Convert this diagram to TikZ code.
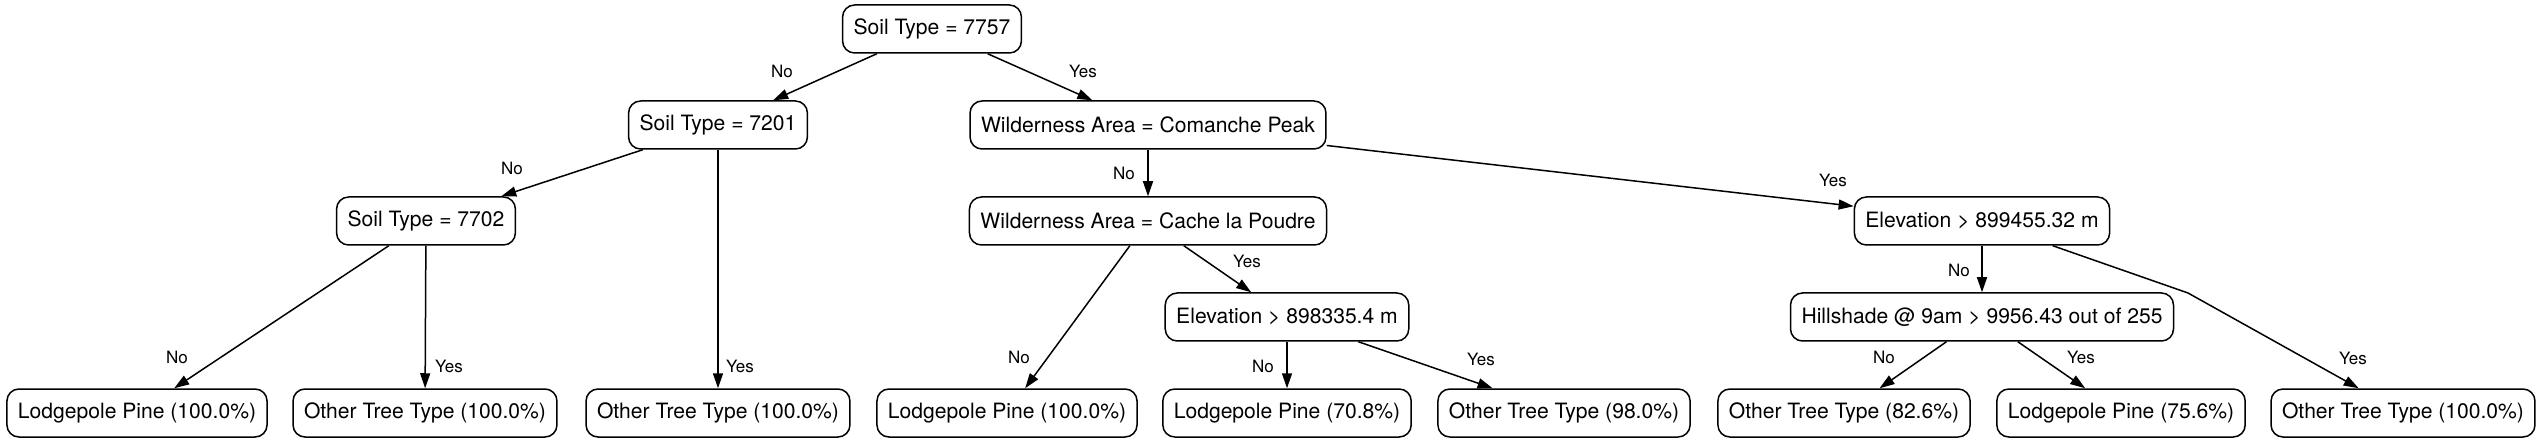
\documentclass[tikz,border=0pt]{standalone}
\usepackage{fontspec}
\setmainfont{TeX Gyre Heros}
\usepackage{tikz}
\usetikzlibrary{arrows.meta}
\tikzset{
  treebox/.style={rounded corners=6pt, draw=black, line width=0.75pt, align=center, inner xsep=5.5pt, inner ysep=0pt, minimum height=24pt, font=\fontsize{10.55}{12}\selectfont},
  branch/.style={-{Triangle[length=7.5pt, width=5pt]}, line width=0.75pt, draw=black},
  lbl/.style={font=\fontsize{8.5}{10}\selectfont, inner sep=0pt}
}
\begin{document}
\begin{tikzpicture}[x=0.5pt, y=-0.5pt]
\useasboundingbox (0,0) rectangle (2544,443);
% split nodes
\node[treebox] (root) at (932,29) {Soil Type = 7757};
\node[treebox] (s7201) at (718,125) {Soil Type = 7201};
\node[treebox] (comanche) at (1148,125) {Wilderness Area = Comanche Peak};
\node[treebox] (s7702) at (426,221) {Soil Type = 7702};
\node[treebox] (cache) at (1148,221) {Wilderness Area = Cache la Poudre};
\node[treebox] (elevA) at (1982,221) {Elevation > 899455.32 m};
\node[treebox] (elevB) at (1287,317) {Elevation > 898335.4 m};
\node[treebox] (hill) at (1982,317) {Hillshade @ 9am > 9956.43 out of 255};
% leaves
\node[treebox] (leafA) at (137,413) {Lodgepole Pine (100.0\%)};
\node[treebox] (leafB) at (425,413) {Other Tree Type (100.0\%)};
\node[treebox] (leafC) at (718,413) {Other Tree Type (100.0\%)};
\node[treebox] (leafD) at (1007,413) {Lodgepole Pine (100.0\%)};
\node[treebox] (leafE) at (1287,413) {Lodgepole Pine (70.8\%)};
\node[treebox] (leafF) at (1564,413) {Other Tree Type (98.0\%)};
\node[treebox] (leafG) at (1844,413) {Other Tree Type (82.6\%)};
\node[treebox] (leafH) at (2121,413) {Lodgepole Pine (75.6\%)};
\node[treebox] (leafI) at (2403,413) {Other Tree Type (100.0\%)};
\coordinate (bend) at (2188,293);

\draw[branch] (root) -- (s7201) node[lbl] at (782,71) {No};
\draw[branch] (root) -- (comanche) node[lbl] at (1083,71) {Yes};
\draw[branch] (s7201) -- (s7702) node[lbl] at (512,168) {No};
\draw[branch] (s7201) -- (leafC) node[lbl] at (740,366) {Yes};
\draw[branch] (s7702) -- (leafA) node[lbl] at (177,357) {No};
\draw[branch] (s7702) -- (leafB) node[lbl] at (449,366) {Yes};
\draw[branch] (comanche) -- (cache) node[lbl] at (1124,173) {No};
\draw[branch] (comanche) -- (elevA) node[lbl] at (1833,180) {Yes};
\draw[branch] (cache) -- (leafD) node[lbl] at (1019,357) {No};
\draw[branch] (cache) -- (elevB) node[lbl] at (1247,261) {Yes};
\draw[branch] (elevB) -- (leafE) node[lbl] at (1263,366) {No};
\draw[branch] (elevB) -- (leafF) node[lbl] at (1481,359) {Yes};
\draw[branch] (elevA) -- (hill) node[lbl] at (1959,270) {No};
\draw[branch] (elevA) -- (bend) -- (leafI) node[lbl] at (2353,358) {Yes};
\draw[branch] (hill) -- (leafG) node[lbl] at (1884,357) {No};
\draw[branch] (hill) -- (leafH) node[lbl] at (2081,357) {Yes};
\end{tikzpicture}
\end{document}
